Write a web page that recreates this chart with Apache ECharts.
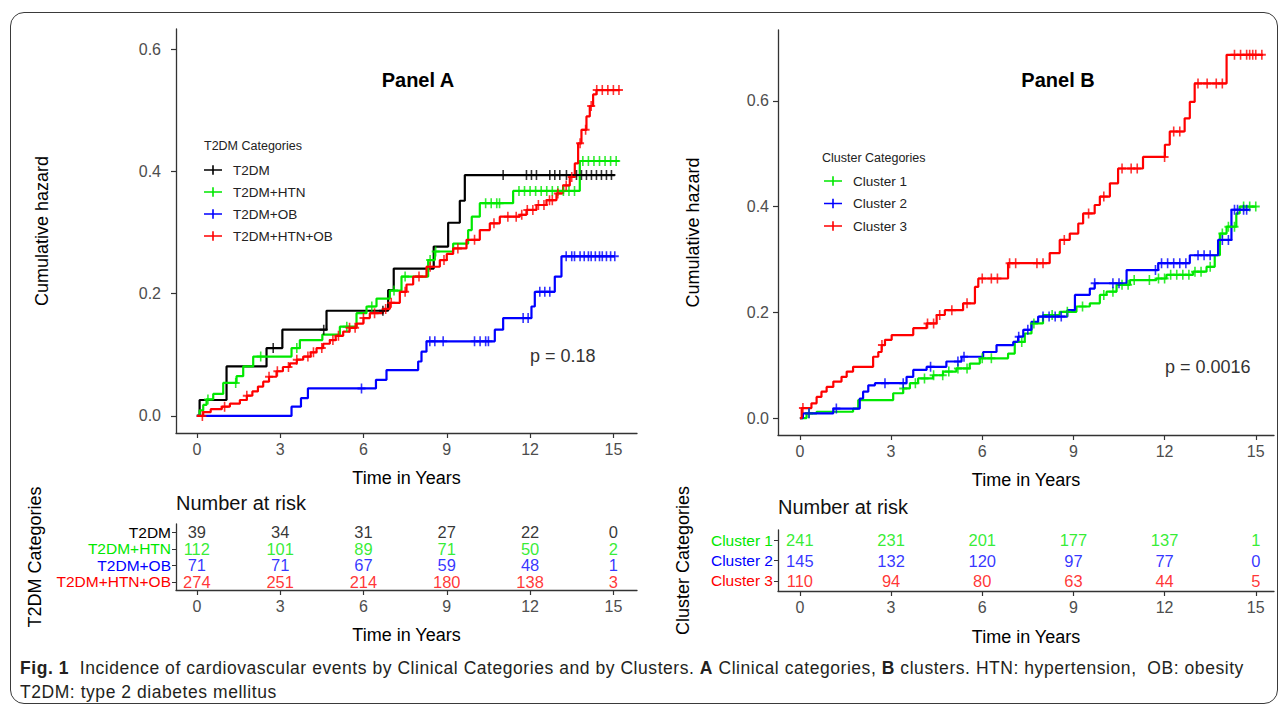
<!DOCTYPE html>
<html>
<head>
<meta charset="utf-8">
<script src="https://cdn.jsdelivr.net/npm/echarts@6/dist/echarts.min.js"></script>
<style>
  html, body { margin: 0; padding: 0; background: #fff; }
  .fig_box {
    position: absolute; left: 10px; top: 12px; width: 1268px; height: 692px;
    border: 1.5px solid #3a3a3a; border-radius: 14px; box-sizing: border-box;
  }
  #chart { position: absolute; left: 0; top: 0; width: 1287px; height: 652px; }
  .caption {
    position: absolute; left: 20px; top: 656px; color: #231f20;
    font-family: "Liberation Sans", Arial, sans-serif;
    font-size: 17.5px; letter-spacing: 0.55px; line-height: 24px; white-space: nowrap;
  }
</style>
</head>
<body>
<div class="fig_box"></div>
<div id="chart"></div>
<div class="caption"><b>Fig. 1</b>&nbsp; Incidence of cardiovascular events by Clinical Categories and by Clusters. <b>A</b> Clinical categories, <b>B</b> clusters. HTN: hypertension,&nbsp; OB: obesity<br>T2DM: type 2 diabetes mellitus</div>
<script>
// ---- panel A: step curves (time of jump, cumulative hazard after jump)
const t2dmT = [0, 0.1, 1.07, 2.51, 3.08, 4.67, 6.89, 7.09, 8.53, 9.05, 9.47, 9.65, 15.05];
const t2dmH = [0, 0.026, 0.081, 0.111, 0.141, 0.172, 0.206, 0.241, 0.277, 0.316, 0.352, 0.394, 0.394];
const t2dmCens = [2.75, 4.57, 6.7, 11.03, 11.87, 12.05, 12.23, 12.71, 12.89, 13.07, 13.31, 13.67, 13.85, 14.03, 14.21, 14.39, 14.57, 14.75, 14.93];

const htnT = [0, 0.1, 0.23, 0.35, 0.59, 0.95, 1.43, 1.67, 2.03, 3.41, 3.71, 4.52, 5.15, 5.75, 6.11, 6.47, 6.95, 7.37, 8.33, 8.57, 9.23, 9.77, 9.9, 10.19, 11.39, 13.79, 15.2];
const htnH = [0, 0.009, 0.018, 0.027, 0.036, 0.054, 0.065, 0.081, 0.097, 0.111, 0.124, 0.133, 0.146, 0.168, 0.179, 0.192, 0.205, 0.228, 0.255, 0.269, 0.282, 0.304, 0.326, 0.348, 0.368, 0.417, 0.417];
const htnCens = [0.4, 1.4, 2.3, 3.6, 5.4, 6.3, 7.1, 7.5, 8.4, 8.6, 10.4, 10.6, 10.8, 10.9, 11.6, 11.8, 12.0, 12.2, 12.4, 12.6, 12.8, 13.0, 13.2, 13.4, 13.6, 13.9, 14.1, 14.3, 14.5, 14.7, 14.9, 15.1];

const obT = [0, 3.41, 3.75, 4.0, 6.45, 6.83, 7.97, 8.09, 8.27, 10.73, 11.03, 12.05, 12.17, 12.89, 13.13, 15.05];
const obH = [0, 0.015, 0.029, 0.045, 0.059, 0.075, 0.089, 0.105, 0.122, 0.141, 0.160, 0.179, 0.203, 0.228, 0.261, 0.261];
const obCens = [5.93, 8.39, 8.57, 8.87, 10.0, 10.2, 10.4, 10.5, 11.75, 11.93, 12.35, 12.53, 12.71, 13.3, 13.5, 13.6, 13.8, 13.95, 14.1, 14.2, 14.35, 14.5, 14.6, 14.75, 14.9, 15.05];

const htnobT = [0, 0.23, 0.5, 0.9, 1.19, 1.55, 1.8, 2.0, 2.2, 2.39, 2.6, 2.87, 3.1, 3.35, 3.6, 3.83, 4.1, 4.31, 4.55, 4.79, 5.0, 5.27, 5.5, 5.75, 6.0, 6.23, 6.7, 6.95, 7.31, 7.55, 7.79, 8.27, 8.75, 9.0, 9.23, 9.71, 10.19, 10.55, 10.91, 11.63, 11.87, 12.23, 12.59, 12.95, 13.19, 13.43, 13.61, 13.73, 13.85, 14.03, 14.15, 14.27, 14.39, 15.23];
const htnobH = [0, 0.006, 0.011, 0.015, 0.020, 0.026, 0.033, 0.040, 0.048, 0.056, 0.064, 0.073, 0.080, 0.086, 0.092, 0.097, 0.104, 0.111, 0.118, 0.124, 0.131, 0.138, 0.144, 0.151, 0.160, 0.168, 0.175, 0.185, 0.203, 0.215, 0.228, 0.244, 0.255, 0.265, 0.274, 0.288, 0.304, 0.315, 0.326, 0.329, 0.337, 0.345, 0.353, 0.364, 0.377, 0.391, 0.413, 0.446, 0.468, 0.490, 0.507, 0.526, 0.533, 0.533];
const htnobCens = [0.2, 1.0, 1.8, 2.6, 2.9, 3.3, 3.6, 4.0, 4.2, 4.5, 4.9, 5.1, 5.5, 5.7, 6.0, 6.4, 6.8, 7.0, 7.5, 8.0, 8.4, 8.9, 9.4, 10.0, 10.7, 11.2, 11.5, 11.7, 11.9, 12.1, 12.3, 12.5, 12.7, 12.8, 13.0, 13.3, 13.5, 13.8, 14.0, 14.2, 14.4, 14.6, 14.8, 15.0, 15.2];

// ---- panel B
const cl1T = [0, 0.22, 0.55, 1.75, 1.92, 3.07, 3.40, 3.62, 3.89, 4.38, 4.71, 5.15, 5.59, 5.92, 6.85, 7.07, 7.40, 7.62, 8.00, 8.55, 9.10, 9.54, 9.87, 10.09, 10.42, 10.86, 11.73, 12.06, 12.94, 13.38, 13.65, 13.82, 14.04, 14.36, 14.47, 15.02];
const cl1H = [0, 0.009, 0.012, 0.018, 0.034, 0.047, 0.056, 0.066, 0.075, 0.081, 0.088, 0.094, 0.103, 0.113, 0.122, 0.144, 0.160, 0.179, 0.195, 0.201, 0.211, 0.217, 0.233, 0.239, 0.252, 0.261, 0.264, 0.271, 0.277, 0.286, 0.308, 0.349, 0.362, 0.387, 0.400, 0.400];
const cl1Cens = [0.3, 3.4, 3.8, 4.1, 4.4, 4.7, 4.9, 5.2, 5.5, 6.0, 6.3, 7.3, 7.7, 8.3, 8.8, 9.3, 10.0, 10.3, 10.6, 10.8, 11.0, 11.5, 11.8, 12.0, 12.2, 12.4, 12.6, 12.8, 13.0, 13.2, 13.5, 13.9, 14.1, 14.3, 14.6, 14.8, 15.0];

const cl2T = [0, 0.1, 1.10, 1.97, 2.08, 2.25, 2.47, 3.51, 3.73, 4.17, 4.82, 5.32, 6.03, 6.47, 7.02, 7.18, 7.35, 7.62, 7.84, 8.8, 9.05, 9.54, 9.70, 10.75, 11.79, 12.83, 13.76, 14.20, 14.80];
const cl2H = [0, 0.009, 0.018, 0.037, 0.050, 0.062, 0.066, 0.078, 0.091, 0.097, 0.107, 0.116, 0.125, 0.138, 0.144, 0.154, 0.167, 0.182, 0.192, 0.204, 0.233, 0.245, 0.255, 0.280, 0.293, 0.308, 0.337, 0.394, 0.394];
const cl2Cens = [0.3, 1.2, 2.8, 3.4, 4.3, 5.2, 5.4, 7.2, 7.5, 8.0, 8.2, 8.4, 8.6, 9.7, 10.3, 10.5, 11.7, 11.9, 12.1, 12.3, 12.5, 12.7, 13.1, 13.3, 13.5, 13.9, 14.1, 14.3, 14.4, 14.6, 14.7];

const cl3T = [0, 0.06, 0.38, 0.55, 0.71, 0.88, 1.10, 1.37, 1.54, 1.75, 2.41, 2.58, 2.69, 2.80, 3.02, 3.73, 4.17, 4.50, 4.77, 5.37, 5.76, 5.87, 6.85, 8.22, 8.55, 8.88, 9.16, 9.32, 9.70, 9.87, 10.20, 10.47, 11.29, 12.01, 12.17, 12.66, 12.83, 12.99, 14.04, 15.24];
const cl3H = [0, 0.019, 0.028, 0.040, 0.050, 0.059, 0.069, 0.078, 0.088, 0.097, 0.116, 0.125, 0.138, 0.148, 0.157, 0.170, 0.179, 0.195, 0.204, 0.217, 0.248, 0.264, 0.293, 0.312, 0.337, 0.349, 0.368, 0.387, 0.403, 0.419, 0.444, 0.472, 0.494, 0.517, 0.542, 0.567, 0.598, 0.633, 0.687, 0.687];
const cl3Cens = [0.1, 2.7, 4.2, 4.4, 4.6, 5.0, 5.5, 6.0, 6.3, 6.5, 6.9, 7.1, 7.8, 8.0, 8.7, 9.5, 10.0, 10.6, 10.9, 11.1, 12.0, 12.3, 12.5, 13.1, 13.4, 13.7, 13.9, 14.3, 14.5, 14.7, 14.8, 14.9, 15.0, 15.2];

// ---- number at risk
const riskTimes = [0, 3, 6, 9, 12, 15];
const catsA = ['T2DM', 'T2DM+HTN', 'T2DM+OB', 'T2DM+HTN+OB'];
const riskT2dm = [39, 34, 31, 27, 22, 0];
const riskHtn = [112, 101, 89, 71, 50, 2];
const riskOb = [71, 71, 67, 59, 48, 1];
const riskHtnOb = [274, 251, 214, 180, 138, 3];
const catsB = ['Cluster 1', 'Cluster 2', 'Cluster 3'];
const riskCl1 = [241, 231, 201, 177, 137, 1];
const riskCl2 = [145, 132, 120, 97, 77, 0];
const riskCl3 = [110, 94, 80, 63, 44, 5];

const yTicksA = [0, 0.2, 0.4, 0.6];
const yTicksB = [0, 0.2, 0.4, 0.6];

const BLACK = '#000000', GREEN = '#00e800', BLUE = '#0000ff', RED = '#ff0000';
const colorsA = [BLACK, GREEN, BLUE, RED];
const colorsB = [GREEN, BLUE, RED];

const SANS = '"Liberation Sans", Arial, sans-serif';
const PLUS = 'path://M4,0H6V4H10V6H6V10H4V6H0V4H4Z';
const LEG_ICON = 'path://M0,4H18V5.6H0Z M8.2,0H9.8V9.6H8.2Z';

function hazAt(ts, hs, t) {
  let h = 0;
  for (let i = 0; i < ts.length; i++) { if (ts[i] <= t) h = hs[i]; }
  return h;
}

function curve(name, ts, hs, cens, color, ax) {
  return [
    {
      name: name, type: 'line', step: 'end', xAxisIndex: ax, yAxisIndex: ax,
      data: ts.map((t, i) => [t, hs[i]]), showSymbol: false, symbol: PLUS,
      color: color, lineStyle: { width: 2.2, color: color }, z: 3
    },
    {
      name: name + ' censored', type: 'scatter', xAxisIndex: ax, yAxisIndex: ax,
      data: cens.map(t => [t, hazAt(ts, hs, t)]), symbol: PLUS, symbolSize: [8, 10],
      itemStyle: { color: color }, z: 4
    }
  ];
}

function riskRow(cat, counts, color, ax) {
  return {
    type: 'scatter', xAxisIndex: ax, yAxisIndex: ax, symbolSize: 0,
    data: riskTimes.map((t, i) => [t, cat, counts[i]]),
    label: {
      show: true, position: 'inside', formatter: p => p.value[2],
      color: color, fontSize: 16.5, fontFamily: SANS
    }
  };
}

function timeAxis(grid, min, max, gap) {
  return {
    type: 'value', gridIndex: grid, min: min, max: max,
    axisLine: { show: true, onZero: false, lineStyle: { color: '#333', width: 1.3 } },
    axisTick: { show: true, length: 5, customValues: riskTimes, lineStyle: { color: '#333', width: 1.2 } },
    axisLabel: { customValues: riskTimes, fontSize: 16, color: '#4d4d4d', fontFamily: SANS, margin: 8 },
    splitLine: { show: false },
    name: 'Time in Years', nameLocation: 'middle', nameGap: gap,
    nameTextStyle: { fontSize: 18, color: '#000', fontFamily: SANS }
  };
}

function hazAxis(grid, min, max, ticks, margin, gap) {
  return {
    type: 'value', gridIndex: grid, min: min, max: max,
    axisLine: { show: true, onZero: false, lineStyle: { color: '#333', width: 1.3 } },
    axisTick: { show: true, length: 5, customValues: ticks, lineStyle: { color: '#333', width: 1.2 } },
    axisLabel: { customValues: ticks, formatter: v => v.toFixed(1), fontSize: 16, color: '#4d4d4d', fontFamily: SANS, margin: margin },
    splitLine: { show: false },
    name: 'Cumulative hazard', nameLocation: 'middle', nameGap: gap,
    nameTextStyle: { fontSize: 18, color: '#000', fontFamily: SANS }
  };
}

function catAxis(grid, cats, colors, title, gap) {
  return {
    type: 'category', gridIndex: grid, data: cats, inverse: true,
    axisLine: { show: true, onZero: false, lineStyle: { color: '#333', width: 1.3 } },
    axisTick: { show: true, length: 4, alignWithLabel: true, interval: 0, lineStyle: { color: '#333' } },
    axisLabel: {
      interval: 0, color: v => colors[cats.indexOf(v)],
      fontSize: 15.5, fontFamily: SANS, margin: 5
    },
    splitLine: { show: false },
    name: title, nameLocation: 'middle', nameGap: gap,
    nameTextStyle: { fontSize: 18, color: '#000', fontFamily: SANS }
  };
}

function txt(x, y, text, font, align, fill) {
  return {
    type: 'text', x: x, y: y, silent: true,
    style: { text: text, font: font, align: align || 'left', verticalAlign: 'middle', fill: fill || '#000' }
  };
}

let option = {
  animation: false,
  grid: [
    { left: 176, top: 29, width: 461, height: 404, outerBoundsMode: 'none' },
    { left: 176, top: 524, width: 461, height: 66, outerBoundsMode: 'none' },
    { left: 778, top: 30, width: 496, height: 405, outerBoundsMode: 'none' },
    { left: 778, top: 530, width: 496, height: 61, outerBoundsMode: 'none' }
  ],
  xAxis: [
    timeAxis(0, -0.75, 15.85, 36),
    timeAxis(1, -0.75, 15.85, 36),
    timeAxis(2, -0.72, 15.6, 36),
    timeAxis(3, -0.72, 15.6, 37)
  ],
  yAxis: [
    hazAxis(0, -0.028, 0.633, yTicksA, 15, 125),
    catAxis(1, catsA, colorsA, 'T2DM Categories', 132),
    hazAxis(2, -0.032, 0.734, yTicksB, 9, 76),
    catAxis(3, catsB, colorsB, 'Cluster Categories', 86)
  ],
  legend: [
    {
      data: catsA.map(n => ({ name: n, icon: LEG_ICON })), orient: 'vertical',
      left: 204, top: 163, padding: 0, itemWidth: 18, itemHeight: 9.6, itemGap: 8,
      selectedMode: false, textStyle: { fontSize: 13.5, color: '#222', fontFamily: SANS, padding: [0, 0, 0, 6] }
    },
    {
      data: catsB.map(n => ({ name: n, icon: LEG_ICON })), orient: 'vertical',
      left: 824, top: 174, padding: 0, itemWidth: 18, itemHeight: 9.6, itemGap: 8.5,
      selectedMode: false, textStyle: { fontSize: 13.5, color: '#222', fontFamily: SANS, padding: [0, 0, 0, 6] }
    }
  ],
  graphic: [
    txt(418, 80, 'Panel A', 'bold 20px ' + SANS, 'center'),
    txt(1058, 80, 'Panel B', 'bold 20px ' + SANS, 'center'),
    txt(204, 146, 'T2DM Categories', '12.5px ' + SANS, 'left', '#222'),
    txt(822, 158, 'Cluster Categories', '12.5px ' + SANS, 'left', '#222'),
    txt(530, 356, 'p = 0.18', '18px ' + SANS, 'left', '#333'),
    txt(1165, 367, 'p = 0.0016', '18px ' + SANS, 'left', '#333'),
    txt(176, 503, 'Number at risk', '20px ' + SANS, 'left', '#111'),
    txt(778, 507, 'Number at risk', '20px ' + SANS, 'left', '#111')
  ],
  series: [].concat(
    curve('T2DM', t2dmT, t2dmH, t2dmCens, BLACK, 0),
    curve('T2DM+HTN', htnT, htnH, htnCens, GREEN, 0),
    curve('T2DM+OB', obT, obH, obCens, BLUE, 0),
    curve('T2DM+HTN+OB', htnobT, htnobH, htnobCens, RED, 0),
    curve('Cluster 1', cl1T, cl1H, cl1Cens, GREEN, 2),
    curve('Cluster 2', cl2T, cl2H, cl2Cens, BLUE, 2),
    curve('Cluster 3', cl3T, cl3H, cl3Cens, RED, 2),
    [
      riskRow('T2DM', riskT2dm, BLACK, 1),
      riskRow('T2DM+HTN', riskHtn, GREEN, 1),
      riskRow('T2DM+OB', riskOb, BLUE, 1),
      riskRow('T2DM+HTN+OB', riskHtnOb, RED, 1),
      riskRow('Cluster 1', riskCl1, GREEN, 3),
      riskRow('Cluster 2', riskCl2, BLUE, 3),
      riskRow('Cluster 3', riskCl3, RED, 3)
    ]
  )
};

let myChart = echarts.init(document.getElementById('chart'), null, { renderer: 'svg' });
myChart.setOption(option);
</script>
</body>
</html>
